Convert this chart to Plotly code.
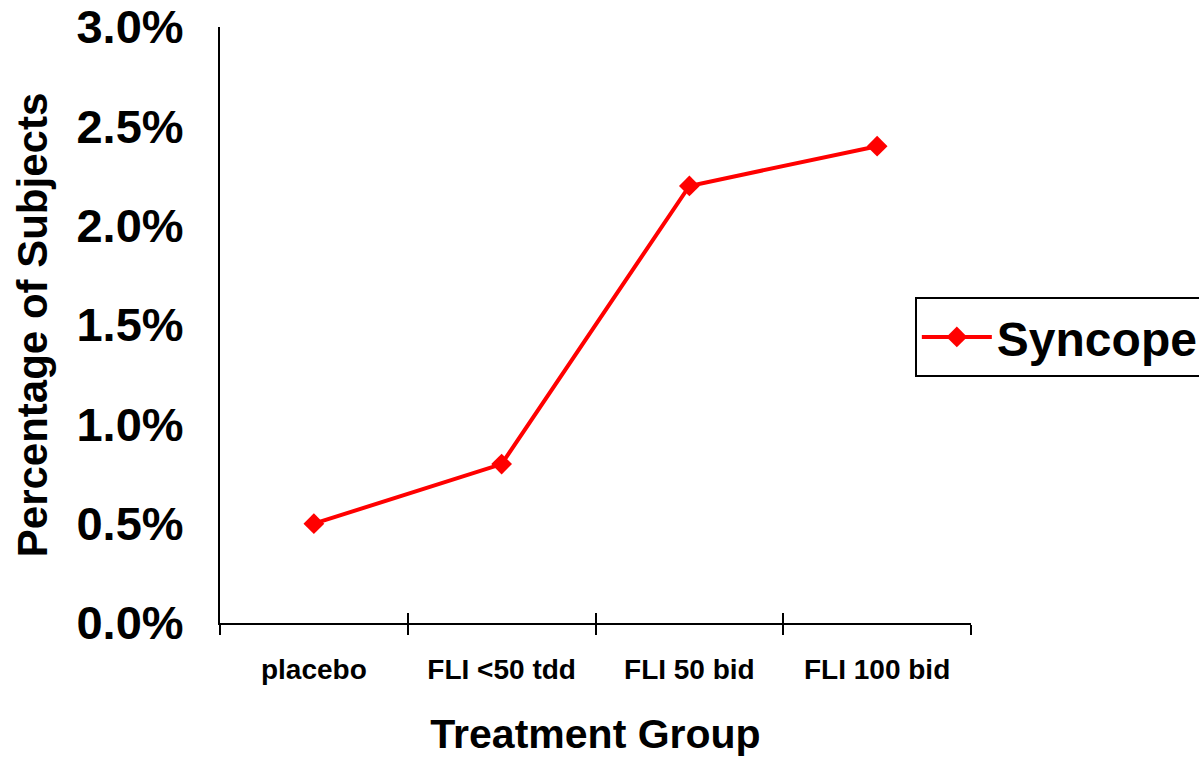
import plotly.graph_objects as go

categories = ["placebo", "FLI <50 tdd", "FLI 50 bid", "FLI 100 bid"]
syncope = [0.005, 0.008, 0.022, 0.024]
series_name = "Syncope"
y_ticks = [0.0, 0.005, 0.01, 0.015, 0.02, 0.025, 0.03]

FONT = "Liberation Sans, Arial, sans-serif"

fig = go.Figure()
fig.add_trace(go.Scatter(
    x=categories, y=syncope, name=series_name, mode="lines+markers",
    line=dict(color="#ff0000", width=4),
    marker=dict(symbol="diamond", size=16, color="#ff0000"),
))

boundaries = [i - 0.5 for i in range(len(categories) + 1)]

fig.update_layout(
    width=1199, height=764,
    margin=dict(l=220, r=228, t=27, b=141, autoexpand=False),
    plot_bgcolor="white", paper_bgcolor="white",
    font=dict(family=FONT, color="black"),
    showlegend=True,
    legend=dict(
        xref="container", yref="container",
        x=0.763, y=0.611, xanchor="left", yanchor="top",
        bordercolor="black", borderwidth=2, bgcolor="white",
        font=dict(size=48, family=FONT, color="black", weight="bold"),
        itemwidth=70,
    ),
    xaxis=dict(
        type="category", range=[-0.5, len(categories) - 0.5],
        showline=True, linecolor="black", linewidth=2,
        ticks="outside", tickson="boundaries", ticklen=10, tickwidth=2, tickcolor="black",
        tickfont=dict(size=28, family=FONT, weight="bold"),
        ticklabelstandoff=20,
        showgrid=False, zeroline=False, automargin=False,
        title=dict(text="Treatment Group", font=dict(size=41, family=FONT, weight="bold"), standoff=36),
    ),
    xaxis2=dict(
        overlaying="x", range=[-0.5, len(categories) - 0.5],
        tickmode="array", tickvals=boundaries, showticklabels=False,
        ticks="inside", ticklen=10, tickwidth=2, tickcolor="black",
        showgrid=False, zeroline=False, showline=False, side="bottom",
        anchor="y", automargin=False,
    ),
    yaxis=dict(
        range=[0, 0.03], tickmode="array", tickvals=y_ticks, tickformat=".1%",
        showline=True, linecolor="black", linewidth=2, ticks="",
        tickfont=dict(size=47, family=FONT, weight="bold"),
        ticklabelstandoff=25,
        showgrid=False, zeroline=False, automargin=False,
        title=dict(text="Percentage of Subjects", font=dict(size=42, family=FONT, weight="bold"), standoff=16),
    ),
)

fig.add_trace(go.Scatter(x=[None], y=[None], xaxis="x2", showlegend=False, hoverinfo="skip"))

fig.write_html("out.html")
